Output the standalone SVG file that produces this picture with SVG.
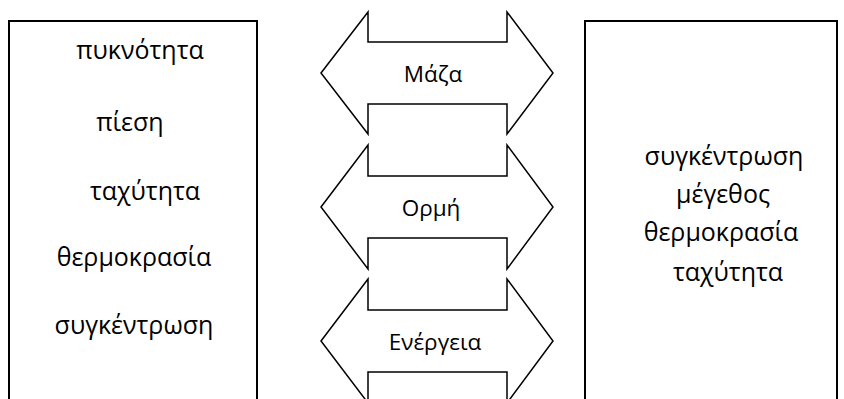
<svg xmlns="http://www.w3.org/2000/svg" width="844" height="399" viewBox="0 0 844 399">
<style>
.box{fill:#fff;stroke:#000;stroke-width:2}
.arr{fill:#fff;stroke:#000;stroke-width:1.5;stroke-linejoin:miter}
text{font-family:"Open Sans","Noto Sans","DejaVu Sans",sans-serif;font-size:25px;fill:#000;text-anchor:middle}
.lbl{font-size:22.5px}
</style>
<rect width="844" height="399" fill="#fff"/>
<g id="left-box">
<path class="box" d="M9,410 V21 H257 V410"/>
<text x="140" y="59">πυκνότητα</text>
<text x="130" y="131">πίεση</text>
<text x="145" y="200">ταχύτητα</text>
<text x="134" y="266">θερμοκρασία</text>
<text x="134" y="334">συγκέντρωση</text>
</g>
<g id="right-box">
<path class="box" d="M585,410 V21 H837 V410"/>
<text x="724" y="165">συγκέντρωση</text>
<text x="723" y="203">μέγεθος</text>
<text x="721" y="241">θερμοκρασία</text>
<text x="728" y="281">ταχύτητα</text>
</g>
<g id="connectors">
<g id="arrow-mass">
<path class="arr" d="M321,73 L368,12 V42 H507 V12 L553,73 L507,134 V104 H368 V134 Z"/>
<text class="lbl" x="433" y="82">Μάζα</text>
</g>
<g id="arrow-momentum">
<path class="arr" d="M321,207 L368,145 V176 H507 V145 L553,207 L507,269 V238 H368 V269 Z"/>
<text class="lbl" x="431" y="216">Ορμή</text>
</g>
<g id="arrow-energy">
<path class="arr" d="M321,341 L368,279 V310 H507 V279 L553,341 L507,403 V372 H368 V403 Z"/>
<text class="lbl" x="435" y="350">Ενέργεια</text>
</g>
</g>
</svg>
